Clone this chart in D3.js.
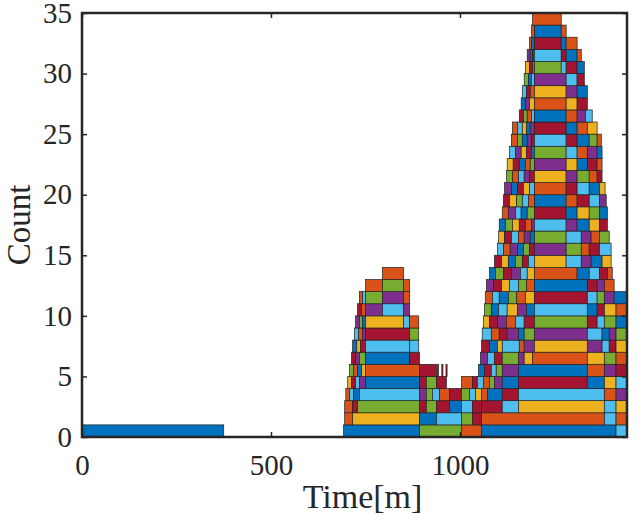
<!DOCTYPE html>
<html>
<head>
<meta charset="utf-8">
<script src="https://cdn.jsdelivr.net/npm/d3@7"></script>
<style>
  body { margin: 0; background: #fff; }
  text { font-family: 'Liberation Serif', 'Times New Roman', serif; fill: #262626; }
</style>
</head>
<body>
<div id="chartDiv"></div>
<script>
// MATLAB default colour order, index used in the colour strings below
const colorOrder = ['#0072BD', '#D95319', '#EDB120', '#7E2F8E', '#77AC30', '#4DBEEE', '#A2142F'];

const xTicks = [0, 500, 1000];
const yTicks = [0, 5, 10, 15, 20, 25, 30, 35];
const xDomain = [0, 1442];
const yDomain = [0, 35];

// rows: [level, breakpoints (time), colour index per segment]
const baseRows = [
  [0, [0, 375], '0'],
  [0, [692, 893, 1004, 1057, 1413, 1442], '04105']
];

const leftPeakRows = [
  [1, [695, 716, 893, 938, 1004, 1033, 1057], '120546'],
  [2, [695, 716, 729, 893, 911, 938, 972, 1004, 1033, 1057], '164646056'],
  [3, [698, 708, 719, 734, 893, 911, 927, 946, 972, 1004, 1025, 1041], '15053451645'],
  [4, [703, 713, 724, 734, 750, 893, 911, 938, 964], '26530646'],
  [4, [1004, 1033, 1046], '16'],
  [5, [708, 719, 729, 740, 750, 893, 938], '410216'],
  [5, [940, 943], '6'],
  [5, [952, 955], '6'],
  [5, [963, 966], '6'],
  [6, [713, 724, 734, 750, 867, 893], '63406'],
  [7, [716, 727, 737, 750, 867, 891], '02655'],
  [8, [721, 732, 742, 750, 867, 891], '51364'],
  [9, [724, 734, 742, 750, 851, 867, 891], '340251'],
  [10, [729, 740, 750, 795, 851, 867], '61353'],
  [11, [734, 742, 750, 795, 851, 867], '15431'],
  [12, [750, 795, 851, 867], '141'],
  [13, [795, 851], '1']
];

const rightPeakRows = [
  [1, [1057, 1382, 1413, 1442], '151'],
  [2, [1057, 1112, 1155, 1382, 1413, 1442], '65252'],
  [3, [1041, 1057, 1073, 1112, 1155, 1382, 1413, 1442], '2106513'],
  [4, [1046, 1062, 1078, 1091, 1112, 1155, 1337, 1382, 1413, 1442], '514306025'],
  [5, [1049, 1065, 1083, 1096, 1112, 1155, 1337, 1382, 1413, 1442], '065430136'],
  [6, [1054, 1073, 1091, 1112, 1155, 1170, 1192, 1337, 1382, 1413, 1442], '3564321241'],
  [7, [1057, 1078, 1099, 1112, 1157, 1170, 1197, 1337, 1376, 1395, 1413, 1442], '60251323562'],
  [8, [1059, 1083, 1104, 1125, 1155, 1170, 1197, 1337, 1376, 1395, 1413, 1442], '51630435034'],
  [9, [1062, 1078, 1099, 1123, 1147, 1170, 1197, 1337, 1363, 1382, 1413, 1442], '26315646540'],
  [10, [1065, 1083, 1102, 1125, 1152, 1176, 1197, 1337, 1363, 1382, 1413, 1442], '40523050621'],
  [11, [1067, 1086, 1104, 1128, 1150, 1173, 1197, 1337, 1363, 1382, 1408, 1442], '15041265430'],
  [12, [1070, 1089, 1110, 1131, 1155, 1176, 1197, 1337, 1363, 1382, 1408], '3625410631'],
  [13, [1078, 1094, 1115, 1136, 1160, 1178, 1197, 1310, 1342, 1369, 1390, 1403], '04635210561'],
  [14, [1091, 1110, 1128, 1147, 1165, 1181, 1197, 1281, 1321, 1347, 1376, 1400], '62046525302'],
  [15, [1099, 1115, 1133, 1152, 1168, 1184, 1197, 1281, 1321, 1342, 1369, 1400], '51304634165'],
  [16, [1102, 1118, 1136, 1155, 1170, 1186, 1197, 1281, 1321, 1347, 1369, 1395], '26513045314'],
  [17, [1104, 1120, 1139, 1157, 1173, 1189, 1197, 1281, 1310, 1342, 1369, 1390], '04261353026'],
  [18, [1112, 1128, 1147, 1162, 1178, 1197, 1281, 1310, 1342, 1369, 1390], '1350460240'],
  [19, [1115, 1131, 1150, 1165, 1181, 1197, 1281, 1310, 1342, 1369, 1387], '6245101653'],
  [20, [1118, 1136, 1152, 1168, 1184, 1197, 1281, 1310, 1342, 1369, 1384], '3062516502'],
  [21, [1123, 1139, 1155, 1170, 1184, 1197, 1281, 1310, 1342, 1363, 1376], '4153623416'],
  [22, [1125, 1141, 1157, 1173, 1186, 1197, 1281, 1310, 1337, 1363, 1376], '2601432061'],
  [23, [1131, 1147, 1162, 1176, 1189, 1197, 1281, 1310, 1337, 1363, 1376], '5326045130'],
  [24, [1136, 1152, 1165, 1178, 1189, 1197, 1281, 1310, 1342, 1363, 1374], '1403656041'],
  [25, [1139, 1152, 1165, 1176, 1186, 1197, 1281, 1310, 1337, 1363], '152036012'],
  [26, [1157, 1168, 1178, 1189, 1197, 1281, 1310, 1332, 1350], '64150135'],
  [27, [1162, 1173, 1184, 1197, 1281, 1310, 1337], '032126'],
  [28, [1165, 1176, 1186, 1197, 1281, 1310, 1337], '561230'],
  [29, [1170, 1181, 1189, 1197, 1281, 1310, 1329], '405356'],
  [30, [1173, 1184, 1192, 1197, 1268, 1281, 1310, 1329], '2614560'],
  [31, [1178, 1186, 1192, 1197, 1268, 1281, 1310, 1321], '3065601'],
  [32, [1184, 1189, 1197, 1268, 1281, 1310], '10601'],
  [33, [1189, 1197, 1268, 1281], '101'],
  [34, [1192, 1268], '1']
];

class CountChart {
  constructor() {
    this.width = 642;
    this.height = 523;
    this.margin = { left: 82, right: 15, top: 13, bottom: 86 };

    this.xScale = d3.scaleLinear()
      .domain(xDomain)
      .range([this.margin.left, this.width - this.margin.right]);

    this.yScale = d3.scaleLinear()
      .domain(yDomain)
      .range([this.height - this.margin.bottom, this.margin.top]);
  }

  /**
   * Builds every part of the chart.
   */
  createChart() {
    this.svg = d3.select('#chartDiv').append('svg')
      .attr('width', this.width)
      .attr('height', this.height);

    this.drawBars();
    this.drawAxes();
    this.drawLabels();
  }

  /**
   * Splits the rows into single bars (one per segment).
   */
  getSegments() {
    let segments = [];
    [baseRows, leftPeakRows, rightPeakRows].forEach(rows => {
      rows.forEach(([level, bp, colors]) => {
        for (let i = 0; i < colors.length; i++) {
          segments.push({ level: level, t0: bp[i], t1: bp[i + 1], c: +colors[i] });
        }
      });
    });
    return segments;
  }

  drawBars() {
    let x = this.xScale;
    let y = this.yScale;

    this.svg.append('g')
      .attr('id', 'bars')
      .selectAll('rect')
      .data(this.getSegments())
      .enter()
      .append('rect')
      .attr('x', d => x(d.t0))
      .attr('width', d => x(d.t1) - x(d.t0))
      .attr('y', d => y(d.level + 1))
      .attr('height', d => y(d.level) - y(d.level + 1))
      .attr('fill', d => colorOrder[d.c])
      .attr('stroke', '#222')
      .attr('stroke-width', 0.7);
  }

  drawAxes() {
    let x = this.xScale;
    let y = this.yScale;
    let [x0, x1] = x.range();
    let [y0, y1] = y.range();
    let tick = 5;

    let bottom = this.svg.append('g')
      .attr('transform', `translate(0, ${y0})`)
      .call(d3.axisBottom(x).tickValues(xTicks).tickFormat(d3.format('d'))
        .tickSize(-tick).tickPadding(17));

    let top = this.svg.append('g')
      .attr('transform', `translate(0, ${y1})`)
      .call(d3.axisTop(x).tickValues(xTicks).tickSize(-tick).tickFormat(''));

    let left = this.svg.append('g')
      .attr('transform', `translate(${x0}, 0)`)
      .call(d3.axisLeft(y).tickValues(yTicks).tickFormat(d3.format('d'))
        .tickSize(-tick).tickPadding(10));

    let right = this.svg.append('g')
      .attr('transform', `translate(${x1}, 0)`)
      .call(d3.axisRight(y).tickValues(yTicks).tickSize(-tick).tickFormat(''));

    [bottom, top, left, right].forEach(g => {
      g.select('.domain').remove();
      g.selectAll('line').attr('stroke', '#262626').attr('stroke-width', 1.5);
      g.selectAll('text')
        .style('font-family', "'Liberation Serif', 'Times New Roman', serif")
        .style('font-size', '29px')
        .attr('fill', '#262626');
    });

    // box round the plot
    this.svg.append('rect')
      .attr('x', x0)
      .attr('y', y1)
      .attr('width', x1 - x0)
      .attr('height', y0 - y1)
      .attr('fill', 'none')
      .attr('stroke', '#262626')
      .attr('stroke-width', 2.5);
  }

  drawLabels() {
    let [x0, x1] = this.xScale.range();
    let [y0, y1] = this.yScale.range();

    this.svg.append('text')
      .attr('x', (x0 + x1) / 2 + 8)
      .attr('y', 508)
      .attr('text-anchor', 'middle')
      .style('font-size', '34px')
      .text('Time[m]');

    this.svg.append('text')
      .attr('transform', `translate(30, ${(y0 + y1) / 2}) rotate(-90)`)
      .attr('text-anchor', 'middle')
      .style('font-size', '33px')
      .text('Count');
  }
}

let chart = new CountChart();
chart.createChart();
</script>
</body>
</html>
